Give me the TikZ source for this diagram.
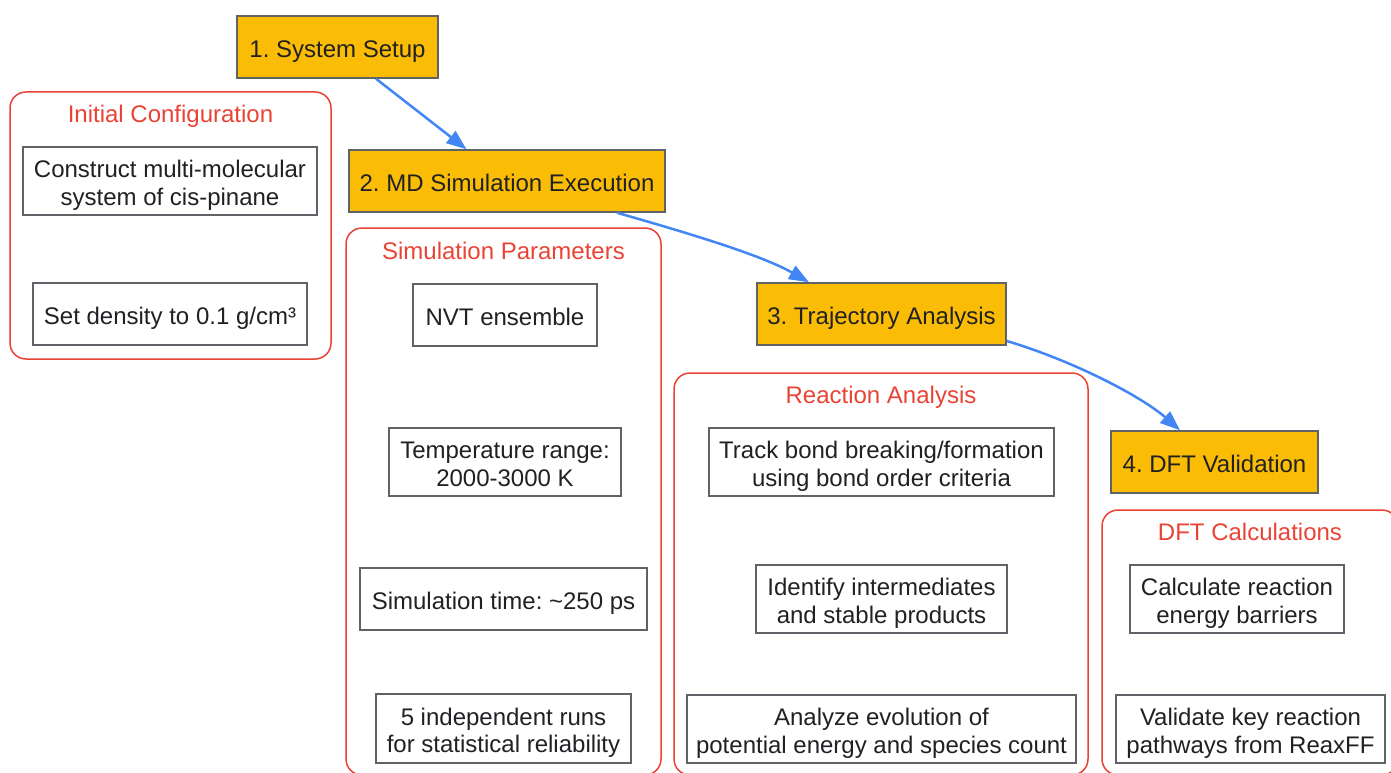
\documentclass[tikz,border=0pt]{standalone}
\usepackage{fontspec}
\setmainfont{Liberation Sans}
\usetikzlibrary{arrows.meta}
\definecolor{stepfill}{HTML}{FBBC05}
\definecolor{boxline}{HTML}{5F6368}
\definecolor{clusterred}{HTML}{EA4335}
\definecolor{arrowblue}{HTML}{4285F4}
\definecolor{txt}{HTML}{202124}
\newcommand{\twolines}[2]{\begin{tabular}{@{}c@{}}\rule{0pt}{28.9pt}#1\\#2\end{tabular}}
\tikzset{
  bigfont/.style={font=\fontsize{24}{27.6}\selectfont\frenchspacing},
  struts/.style={execute at begin node={\rule{0pt}{25.6pt}}, execute at end node={\rule[-5pt]{0pt}{5pt}}},
  stepbox/.style={draw=boxline, line width=1.5pt, fill=stepfill, text=txt, inner sep=0pt, struts, bigfont},
  itembox/.style={draw=boxline, line width=1.5pt, fill=white, text=txt, inner sep=0pt, struts, bigfont},
  itemboxtwo/.style={draw=boxline, line width=1.5pt, fill=white, text=txt, inner sep=0pt, bigfont},
  clusterbox/.style={draw=clusterred, line width=1.5pt, rounded corners=16pt},
  clustertitle/.style={text=clusterred, inner sep=0pt, struts, bigfont},
  flow/.style={draw=arrowblue, line width=2.5pt, -{Triangle[length=20pt,width=15pt]}}
}
\begin{document}
\begin{tikzpicture}[x=1pt,y=-1pt]
\useasboundingbox (0,0) rectangle (1391,773);
\clip (0,0) rectangle (1391,773);
% clusters
\draw[clusterbox] (10,92) rectangle (331,359);
\node[clustertitle] (t1) at (170.5,112.7) {Initial Configuration};
\draw[clusterbox] (346,228) rectangle (661,775);
\node[clustertitle] (t2) at (503.5,249) {Simulation Parameters};
\draw[clusterbox] (674,373) rectangle (1088,775);
\node[clustertitle] (t3) at (881,393) {Reaction Analysis};
\draw[clusterbox] (1102,510) rectangle (1398,775);
\node[clustertitle] (t4) at (1250,529.7) {DFT Calculations};
% steps
\node[stepbox, minimum width=201pt, minimum height=62pt] (step1) at (337.5,47) {1. System Setup};
\node[stepbox, minimum width=316pt, minimum height=62pt] (step2) at (507,181) {2. MD Simulation Execution};
\node[stepbox, minimum width=249pt, minimum height=62pt] (step3) at (881.5,314) {3. Trajectory Analysis};
\node[stepbox, minimum width=207pt, minimum height=62pt] (step4) at (1214.5,462) {4. DFT Validation};
% items
\node[itemboxtwo, minimum width=294pt, minimum height=68pt] (c1) at (170,181) {\twolines{Construct multi-molecular}{system of cis-pinane}};
\node[itembox, minimum width=274pt, minimum height=62pt] (c2) at (170,314) {Set density to 0.1 g/cm³};
\node[itembox, minimum width=184pt, minimum height=62pt] (s1) at (505,315) {NVT ensemble};
\node[itemboxtwo, minimum width=232pt, minimum height=68pt] (s2) at (505,462) {\twolines{Temperature range:}{2000-3000 K}};
\node[itembox, minimum width=287pt, minimum height=62pt] (s3) at (503.5,599) {Simulation time: \textasciitilde 250 ps};
\node[itemboxtwo, minimum width=255pt, minimum height=69pt] (s4) at (503.5,728.5) {\twolines{5 independent runs}{for statistical reliability}};
\node[itemboxtwo, minimum width=345pt, minimum height=68pt] (r1) at (881.5,462) {\twolines{Track bond breaking/formation}{using bond order criteria}};
\node[itemboxtwo, minimum width=251pt, minimum height=68pt] (r2) at (881.5,599) {\twolines{Identify intermediates}{and stable products}};
\node[itemboxtwo, minimum width=389pt, minimum height=68pt] (r3) at (881.5,729) {\twolines{Analyze evolution of}{potential energy and species count}};
\node[itemboxtwo, minimum width=214pt, minimum height=68pt] (d1) at (1237,599) {\twolines{Calculate reaction}{energy barriers}};
\node[itemboxtwo, minimum width=269pt, minimum height=68pt] (d2) at (1250.5,729) {\twolines{Validate key reaction}{pathways from ReaxFF}};
% connectors
\draw[flow] ([xshift=38.5pt]step1.south) -- ([xshift=-40.5pt]step2.north);
\draw[flow] ([xshift=110pt]step2.south) .. controls +(63,18) and +(-49,-28) .. ([xshift=-72.5pt]step3.north);
\draw[flow] ([yshift=-27pt]step3.east) .. controls +(64,19) and +(-40,-35) .. ([xshift=-34.5pt]step4.north);
\end{tikzpicture}
\end{document}
